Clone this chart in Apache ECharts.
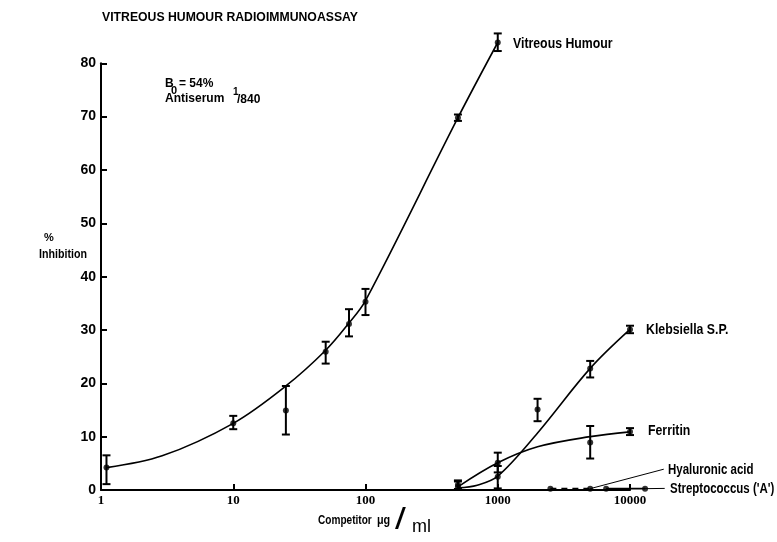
<!DOCTYPE html>
<html><head><meta charset="utf-8">
<script src="https://cdn.jsdelivr.net/npm/echarts@6/dist/echarts.min.js"></script>
<style>html,body{margin:0;padding:0;background:#fff}#c{width:777px;height:542px}</style>
</head><body><div id="c"></div>
<script>
// ---- data ----
const xTickLabels = ['1', '10', '100', '1000', '10000'];
const yTickLabels = ['0', '10', '20', '30', '40', '50', '60', '70', '80'];

const vitreousX  = [1.1, 10, 25, 50, 75, 100, 500, 1000];
const vitreousY  = [4.2, 12.5, 14.9, 25.9, 31.1, 35.3, 69.8, 83.9];
const vitreousLo = [1.1, 11.4, 10.4, 23.7, 28.8, 32.8, 69.2, 82.3];
const vitreousHi = [6.5, 13.9, 19.5, 27.8, 33.9, 37.7, 70.4, 85.6];
const vitreousCurveX = [1.1, 2.9, 10, 25, 50, 75, 100, 500, 1000];
const vitreousCurveY = [4.2, 6.4, 12.5, 19.5, 26.2, 31.3, 35.5, 69.8, 83.9];

const klebX  = [500, 1000, 2000, 5000, 10000];
const klebY  = [0.6, 2.5, 15.1, 22.8, 30.1];
const klebLo = [0.0, 0.3, 12.9, 21.1, 29.4];
const klebHi = [1.6, 4.5, 17.1, 24.2, 30.8];
const klebCurveX = [500, 700, 1000, 2000, 5000, 10000];
const klebCurveY = [0.4, 0.9, 2.6, 10.7, 22.8, 30.1];

const ferrX  = [500, 1000, 5000, 10000];
const ferrY  = [1.0, 5.1, 8.9, 10.9];
const ferrLo = [0.2, 3.3, 5.9, 10.3];
const ferrHi = [1.8, 7.0, 12.0, 11.6];
const ferrCurveX = [500, 1000, 2000, 5000, 10000];
const ferrCurveY = [0.6, 5.1, 8.1, 10.0, 10.9];

const hyalX = [2500, 5000];
const hyalY = [0.25, 0.25];
const strepX = [6600, 13000];
const strepY = [0.25, 0.25];

const seriesNames = ['Vitreous Humour', 'Klebsiella S.P.', 'Ferritin', 'Hyaluronic acid', "Streptococcus ('A')"];
// leader lines from the last points to the two lowest labels (data coords)
const leaderFromX = [5000, 13000];
const leaderFromY = [0.25, 0.25];
const leaderToX   = [18000, 18300];
const leaderToY   = [3.9, 0.3];

// ---- helpers ----
const zip = (a, b) => a.map((v, i) => [v, b[i]]);
const zip3 = (a, b, c) => a.map((v, i) => [v, b[i], c[i]]);
const SANS = '"Liberation Sans", Arial, sans-serif';

function errSeries(data) {
  return {
    type: 'custom', data: data, clip: false, z: 5,
    encode: { x: 0, y: [1, 2] },
    renderItem: function (params, api) {
      const x = api.value(0), lo = api.value(1), hi = api.value(2);
      const a = api.coord([x, lo]), b = api.coord([x, hi]);
      const w = 4;
      const st = { stroke: '#000', lineWidth: 2 };
      return { type: 'group', children: [
        { type: 'line', shape: { x1: a[0], y1: a[1], x2: b[0], y2: b[1] }, style: st },
        { type: 'line', shape: { x1: a[0] - w, y1: a[1], x2: a[0] + w, y2: a[1] }, style: st },
        { type: 'line', shape: { x1: b[0] - w, y1: b[1], x2: b[0] + w, y2: b[1] }, style: st }
      ]};
    }
  };
}
function segSeries(data, width, dash) {
  return {
    type: 'custom', data: data, clip: false, z: 4,
    encode: { x: [0, 2], y: [1, 3] },
    renderItem: function (params, api) {
      const a = api.coord([api.value(0), api.value(1)]), b = api.coord([api.value(2), api.value(3)]);
      return { type: 'line', shape: { x1: a[0], y1: a[1], x2: b[0], y2: b[1] },
        style: { stroke: '#000', lineWidth: width, lineDash: dash || null } };
    }
  };
}
function pts(data) {
  return { type: 'scatter', data: data, symbol: 'circle', symbolSize: 6, clip: false, z: 6,
    itemStyle: { color: '#000' } };
}
function curve(data, extra) {
  return Object.assign({ type: 'line', data: data, showSymbol: false, smooth: 0.35, clip: false,
    lineStyle: { color: '#000', width: 1.6 }, z: 4 }, extra || {});
}
function txt(x, y, s, size, weight, sx, align) {
  return { type: 'text', x: x, y: y, scaleX: sx || 1, originX: 0, originY: 0,
    style: { text: s, fill: '#000', align: align || 'left', verticalAlign: 'middle',
      font: (weight || 'bold') + ' ' + size + 'px ' + SANS } };
}

const chart = echarts.init(document.getElementById('c'), null, { renderer: 'canvas' });
const option = {
  backgroundColor: '#fff',
  animation: false,
  grid: { left: 101, right: 147, top: 63.3, bottom: 52 },
  xAxis: {
    type: 'log', logBase: 10, min: 1, max: 10000,
    axisLine: { lineStyle: { color: '#000', width: 2 } },
    axisTick: { inside: true, length: 6, lineStyle: { color: '#000', width: 2 } },
    minorTick: { show: false },
    splitLine: { show: false },
    axisLabel: { color: '#000', fontFamily: '"Liberation Serif", serif', fontSize: 13, fontWeight: 'bold', margin: 4,
      formatter: function (v) { const i = Math.round(Math.log10(v)); return xTickLabels[i] || ''; } }
  },
  yAxis: {
    type: 'value', min: 0, max: 80, interval: 10,
    axisLine: { show: true, lineStyle: { color: '#000', width: 2 } },
    axisTick: { show: true, inside: true, length: 6, lineStyle: { color: '#000', width: 2 } },
    splitLine: { show: false },
    axisLabel: { color: '#000', fontFamily: SANS, fontSize: 14, fontWeight: 'bold', margin: 5,
      formatter: function (v) { return yTickLabels[Math.round(v / 10)]; } }
  },
  series: [
    curve(zip(vitreousCurveX, vitreousCurveY), { name: seriesNames[0] }),
    errSeries(zip3(vitreousX, vitreousLo, vitreousHi)),
    pts(zip(vitreousX, vitreousY)),
    curve(zip(klebCurveX, klebCurveY), { name: seriesNames[1] }),
    errSeries(zip3(klebX, klebLo, klebHi)),
    pts(zip(klebX, klebY)),
    curve(zip(ferrCurveX, ferrCurveY), { name: seriesNames[2] }),
    errSeries(zip3(ferrX, ferrLo, ferrHi)),
    pts(zip(ferrX, ferrY)),
    segSeries([[hyalX[0], hyalY[0], hyalX[1], hyalY[1]]], 1.6, [6, 5]),
    pts(zip(hyalX, hyalY)),
    segSeries([[strepX[0], strepY[0], strepX[1], strepY[1]]], 1.6),
    pts(zip(strepX, strepY)),
    segSeries(leaderFromX.map((v, i) => [v, leaderFromY[i], leaderToX[i], leaderToY[i]]), 1)
  ],
  graphic: [
    txt(102, 18, 'VITREOUS HUMOUR RADIOIMMUNOASSAY', 12, 'bold', 1.02),
    txt(165, 84, 'B', 12),
    txt(171, 91, '0', 11),
    txt(179, 84, '= 54%', 12),
    txt(165, 99, 'Antiserum', 12),
    txt(233, 92, '1', 10),
    txt(237, 100, '/840', 12),
    txt(49, 238, '%', 11, 'bold', 1, 'center'),
    txt(63, 254, 'Inhibition', 13, 'bold', 0.82, 'center'),
    txt(318, 521, 'Competitor', 12, 'bold', 0.84),
    txt(377, 521, 'μg', 12, 'bold', 0.9),
    txt(395, 521, '/', 30, 'normal', 1.3),
    txt(412, 527, 'ml', 18, 'normal', 1),
    txt(513, 44, seriesNames[0], 15, 'bold', 0.82),
    txt(646, 330, seriesNames[1], 15, 'bold', 0.82),
    txt(648, 431, seriesNames[2], 15, 'bold', 0.82),
    txt(668, 470, seriesNames[3], 14, 'bold', 0.82),
    txt(670, 489, seriesNames[4], 14, 'bold', 0.82)
  ]
};
chart.setOption(option);
</script>
</body></html>
